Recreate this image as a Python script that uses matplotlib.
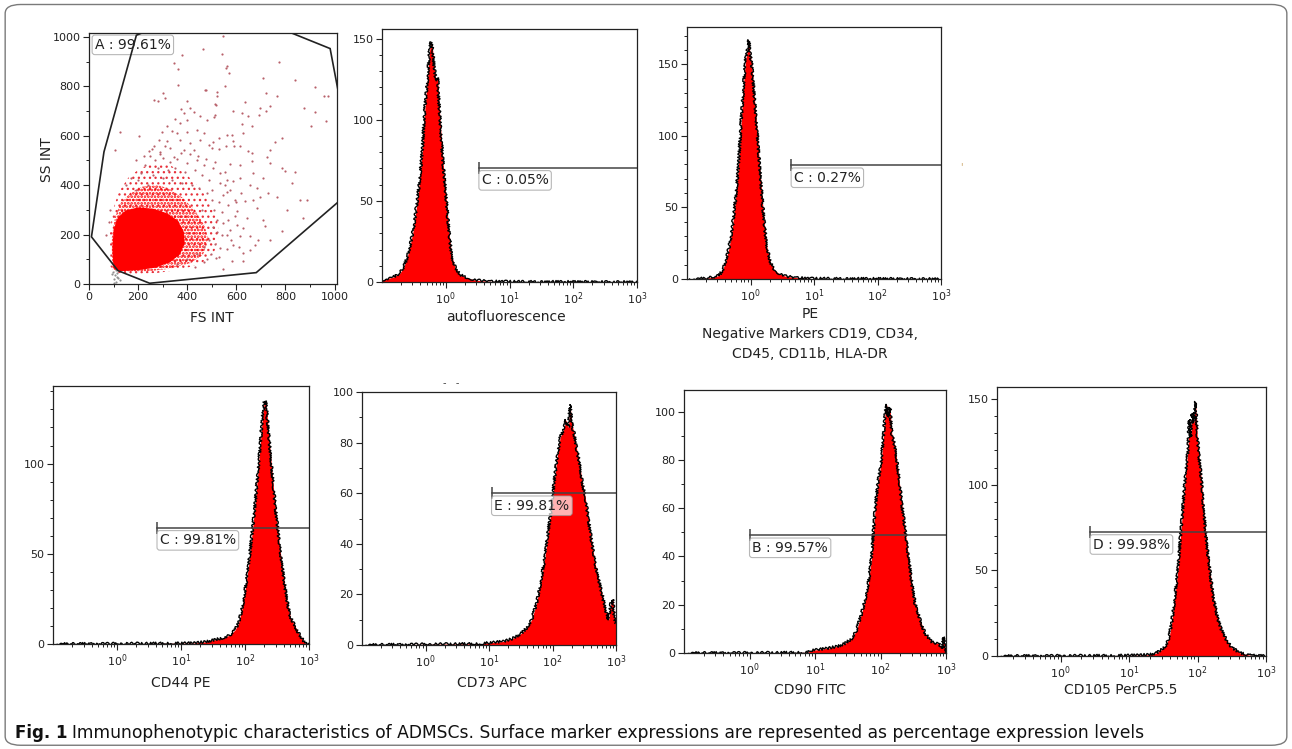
import matplotlib.pyplot as plt
import numpy as np
from matplotlib.patches import FancyBboxPatch, Polygon
from matplotlib.ticker import MultipleLocator, FixedLocator, LogLocator, NullFormatter

plt.rcParams['font.family'] = ['DejaVu Sans']

# ---- scatter (FS INT vs SS INT) ----
gate_fs = [10, 61, 193, 250, 790, 982, 1030, 1030, 681, 247, 118]
gate_ss = [191, 535, 1007, 1030, 1030, 953, 700, 345, 46, 3, 54]

# densest (solid red) part of the cloud
core_fs = [100, 95, 100, 118, 150, 200, 260, 320, 360, 385, 390, 370, 330, 270, 200, 130]
core_ss = [62, 140, 220, 270, 298, 310, 305, 285, 258, 215, 165, 120, 88, 66, 56, 52]

# dense speckled ring around it
inner_fs = [95, 92, 105, 130, 170, 220, 280, 330, 380, 430, 470, 485, 465, 415, 330, 230, 140]
inner_ss = [60, 180, 270, 330, 370, 395, 400, 385, 350, 300, 240, 180, 120, 85, 62, 50, 48]

# thinner speckled ring
outer_fs = [88, 85, 95, 120, 160, 210, 270, 330, 390, 440, 490, 520, 530, 510, 460, 380, 280, 180, 110]
outer_ss = [70, 200, 290, 370, 430, 470, 490, 480, 450, 400, 340, 270, 200, 130, 85, 60, 45, 40, 45]

sparse_fs = [464, 379, 347, 361, 361, 301, 311, 263, 281, 399, 473, 477, 374, 385, 412, 426, 453,
             351, 372, 399, 480, 317, 338, 297, 358, 399, 440, 467, 127, 205, 284, 317, 372, 412,
             453, 487, 263, 331, 385, 426, 243, 107, 290,
             545, 543, 560, 557, 571, 773, 710, 838, 552, 720, 764, 920, 958, 974, 520, 523, 512,
             517, 635, 513, 509, 587, 624, 696, 737, 720, 693, 649, 876, 920, 965, 624, 662, 906,
             560, 584, 628, 784, 757, 531, 506, 587, 590, 556, 614, 737, 649, 662, 531, 499, 724,
             513, 574, 614, 662, 737, 784, 798, 839, 825, 859, 886, 805, 872, 784, 737, 676, 626,
             581, 628, 696, 730, 764, 669, 621, 635, 683, 710, 717, 689, 655, 628, 642, 601, 587,
             614, 655, 683, 669, 710, 553, 533, 560, 594, 567, 594, 614, 587, 560, 546, 533, 519,
             655, 574, 601,
             250, 270, 300, 330, 360, 400, 440, 470, 230, 280, 320, 350, 390, 430, 460, 490, 210,
             260, 300, 340, 380, 420, 450, 480, 500, 510, 520, 505, 490, 470, 440, 400, 360, 200,
             240, 460, 500, 530, 540, 515, 480, 430, 80, 70, 85, 150, 170, 190, 560, 545,
             190, 225, 255, 290, 310, 345, 375, 410, 445, 475, 505, 535, 555, 575, 600, 540, 565,
             520, 495, 470, 530, 560, 580, 610, 545]
sparse_ss = [950, 927, 894, 869, 804, 775, 752, 745, 739, 739, 786, 784, 707, 694, 714, 697, 680,
             669, 653, 662, 664, 641, 621, 617, 611, 617, 624, 611, 617, 600, 584, 577, 584, 571,
             584, 564, 557, 550, 543, 543, 537, 541, 533,
             1005, 931, 883, 876, 856, 900, 833, 824, 802, 775, 759, 797, 759, 763, 779, 762, 729,
             725, 736, 685, 678, 701, 694, 712, 719, 701, 685, 681, 712, 695, 658, 647, 640, 640,
             603, 603, 610, 590, 573, 590, 573, 577, 558, 558, 558, 543, 540, 531, 548, 552, 516,
             493, 485, 482, 496, 489, 469, 458, 455, 408, 341, 341, 301, 267, 216, 180, 157, 126,
             92, 92, 354, 368, 354, 341, 368, 334, 307, 260, 233, 180, 193, 226, 267, 294, 415,
             428, 401, 388, 449, 428, 455, 408, 374, 341, 321, 274, 193, 159, 199, 247, 146, 105,
             139, 220, 240,
             520, 500, 510, 495, 505, 490, 500, 480, 480, 470, 460, 470, 455, 460, 440, 420, 450,
             440, 430, 420, 410, 400, 390, 370, 340, 300, 260, 230, 180, 150, 120, 100, 80, 420,
             400, 300, 380, 330, 200, 160, 100, 70, 250, 200, 300, 400, 430, 380, 420, 360,
             500, 520, 545, 525, 560, 515, 530, 525, 520, 505, 470, 450, 400, 380, 330, 290, 260,
             210, 120, 90, 110, 140, 180, 150, 60]

debris_fs = [100, 105, 110, 115, 98, 120, 108, 125, 102, 112, 118, 95]
debris_ss = [20, 35, 10, 45, 50, 25, 55, 15, 5, 30, 60, 40]

# ---- histograms: log10 intensity and event counts ----
auto_log = [-1.008, -0.929, -0.824, -0.719, -0.667, -0.614, -0.562, -0.509, -0.457, -0.404,
            -0.362, -0.341, -0.310, -0.283, -0.257, -0.231, -0.205, -0.184, -0.152, -0.126,
            -0.115, -0.079, -0.037, 0.016, 0.058, 0.094, 0.147, 0.226, 0.331, 0.488, 0.698,
            1.118, 3.0]
auto_cnt = [1, 2, 3, 5.5, 8.6, 14, 22, 32, 47, 65, 84, 100, 115, 127, 142, 148, 143, 133, 124,
            126, 115, 94, 71, 47, 28, 16, 9, 4.5, 2.5, 1, 0.4, 0.2, 0]

pe_log = [-0.960, -0.701, -0.571, -0.493, -0.441, -0.389, -0.337, -0.285, -0.234, -0.192,
          -0.156, -0.130, -0.104, -0.078, -0.052, -0.026, -0.010, 0.016, 0.036, 0.067, 0.104,
          0.140, 0.182, 0.223, 0.259, 0.311, 0.363, 0.441, 0.545, 0.701, 0.960, 3.0]
pe_cnt = [0, 0.5, 1.4, 2.6, 6, 13, 22, 36, 57, 78, 104, 122, 139, 153, 159, 167, 158, 151, 141,
          123, 104, 81, 57, 36, 22, 12, 7, 4, 2, 1, 0.3, 0]

cd44_log = [-1.004, 0.042, 0.826, 1.192, 1.401, 1.558, 1.662, 1.767, 1.845, 1.898, 1.950,
            2.002, 2.054, 2.107, 2.159, 2.196, 2.227, 2.248, 2.274, 2.300, 2.321, 2.342, 2.368,
            2.405, 2.446, 2.488, 2.541, 2.603, 2.656, 2.708, 2.771, 2.838, 2.906, 2.943, 3.0]
cd44_cnt = [0, 0.2, 0.4, 0.5, 1.3, 2.6, 3.5, 5, 7.8, 11.5, 19, 30, 43, 60, 78, 93, 106, 115,
            126, 134, 135, 128, 117, 102, 86, 71, 54, 37, 24, 15, 10.5, 6, 2.2, 0.4, 0]

cd73_log = [-1.007, 0.063, 0.854, 1.223, 1.355, 1.434, 1.513, 1.592, 1.671, 1.750, 1.829,
            1.882, 1.935, 1.987, 2.024, 2.066, 2.119, 2.172, 2.214, 2.251, 2.277, 2.304, 2.340,
            2.383, 2.425, 2.462, 2.514, 2.567, 2.620, 2.673, 2.725, 2.778, 2.831, 2.884, 2.921,
            2.952, 2.973, 3.0]
cd73_cnt = [0, 0.3, 0.5, 1.4, 2.4, 3.4, 4.7, 6.7, 10, 16.6, 27, 35, 45.5, 54.7, 64, 73, 82, 85,
            89, 86, 95, 87.6, 83.6, 77, 72, 65, 58.6, 49.4, 40, 32, 25.8, 20.5, 14, 10, 16.6,
            18, 11, 8.7]

cd90_log = [-0.998, 0.379, 0.891, 0.942, 1.045, 1.198, 1.352, 1.454, 1.557, 1.633, 1.710,
            1.761, 1.813, 1.864, 1.915, 1.966, 2.007, 2.043, 2.069, 2.094, 2.120, 2.145, 2.171,
            2.222, 2.273, 2.325, 2.376, 2.427, 2.478, 2.529, 2.606, 2.683, 2.785, 2.888, 2.939,
            2.965, 2.990, 3.0]
cd90_cnt = [0, 0.1, 0.3, 1.1, 1.4, 2, 2.8, 3.9, 5.9, 9.4, 16.3, 21.8, 28.7, 39.8, 59, 71.5,
            78.5, 89.5, 99, 103, 97.8, 101.7, 91, 85.4, 74.3, 61.9, 50.8, 39.8, 28.7, 20.4, 13.5,
            8, 4.6, 3.9, 1.8, 6.6, 0.4, 0]

cd105_log = [-0.932, 0.473, 1.059, 1.302, 1.400, 1.473, 1.537, 1.585, 1.620, 1.668, 1.717,
             1.751, 1.790, 1.829, 1.859, 1.878, 1.898, 1.922, 1.946, 1.971, 1.995, 2.024, 2.059,
             2.093, 2.132, 2.180, 2.229, 2.288, 2.351, 2.424, 2.498, 2.620, 2.766, 2.995]
cd105_cnt = [0, 0.2, 0.4, 0.8, 1.8, 3.7, 6.2, 11, 19, 34.5, 52, 70, 89, 108.6, 120, 138, 128,
             141.6, 136, 148.5, 128, 116, 101, 83, 65.7, 50, 34.5, 22.8, 15, 9.2, 4.9, 1.8, 0.4, 0]

# gate markers: start (log10), level, label
gate_start = [0.52, 0.64, 0.625, 1.04, 0.0, 0.43]
gate_level = [70.4, 79.5, 64.4, 60, 48.8, 72.4]
gate_text = ['C : 0.05%', 'C : 0.27%', 'C : 99.81%', 'E : 99.81%', 'B : 99.57%', 'D : 99.98%']

W, H = 1292, 749
fig = plt.figure(figsize=(W / 100, H / 100), dpi=100)


def px_rect(left, top, right, bottom):
    return [left / W, 1 - bottom / H, (right - left) / W, (bottom - top) / H]


def fig_text(x, y, s, **kw):
    return fig.text(x / W, 1 - y / H, s, **kw)


def frame(ax):
    for sp in ax.spines.values():
        sp.set_color('#222222')
        sp.set_linewidth(0.9)
    ax.tick_params(which='major', direction='out', length=4, width=0.8,
                   labelsize=8, colors='#222222', pad=2)
    ax.tick_params(which='minor', direction='out', length=2.5, width=0.7, colors='#222222')


box_style = dict(boxstyle='round,pad=0.2', fc='white', ec='#999999', lw=0.8, alpha=0.7)

# scatter panel
ax = fig.add_axes(px_rect(89, 33, 337, 284))
with plt.rc_context({'hatch.linewidth': 0.9}):
    ax.add_patch(Polygon(np.column_stack([outer_fs, outer_ss]), closed=True, fc='none',
                         ec='#e8303a', lw=0, hatch='...'))
with plt.rc_context({'hatch.linewidth': 1.3}):
    ax.add_patch(Polygon(np.column_stack([inner_fs, inner_ss]), closed=True, fc='none',
                         ec='#ff0000', lw=0, hatch='.....'))
ax.scatter(sparse_fs, sparse_ss, s=2.5, color='#b8606a', lw=0)
ax.scatter(debris_fs, debris_ss, s=2.5, color='#909090', lw=0)
ax.add_patch(Polygon(np.column_stack([core_fs, core_ss]), closed=True, fc='#ff0000', lw=0))
ax.add_patch(Polygon(np.column_stack([gate_fs, gate_ss]), closed=True, fc='none',
                     ec='#222222', lw=1.2, zorder=4))
ax.set_xlim(0, 1010)
ax.set_ylim(0, 1016)
ax.xaxis.set_major_locator(MultipleLocator(200))
ax.xaxis.set_minor_locator(MultipleLocator(100))
ax.yaxis.set_major_locator(MultipleLocator(200))
ax.yaxis.set_minor_locator(MultipleLocator(100))
frame(ax)
ax.text(24, 968, 'A : 99.61%', fontsize=10, va='center', ha='left', color='#222222',
        bbox=box_style, zorder=3)
fig_text(212, 318, 'FS INT', fontsize=10, ha='center', va='center', color='#222222')
fig_text(47, 160, 'SS INT', fontsize=10, ha='center', va='center', rotation=90, color='#222222')


def histogram(rect, logs, counts, ymax, ystep, k, xmin=0.1):
    ax = fig.add_axes(rect)
    x = 10 ** np.array(logs)
    ax.fill_between(x, counts, color='#ff0000', lw=0)
    line, = ax.plot(x, counts, color='black', lw=1.0)
    line.set_sketch_params(scale=1.3, length=2.2, randomness=3)
    ax.set_xscale('log')
    ax.set_xlim(xmin, 1000)
    ax.set_ylim(0, ymax)
    ax.xaxis.set_major_locator(FixedLocator([1, 10, 100, 1000]))
    ax.xaxis.set_minor_locator(LogLocator(base=10, subs=np.arange(2, 10), numticks=20))
    ax.xaxis.set_minor_formatter(NullFormatter())
    ax.yaxis.set_major_locator(MultipleLocator(ystep))
    ax.yaxis.set_minor_locator(MultipleLocator(10))
    frame(ax)
    gx = 10 ** gate_start[k]
    gy = gate_level[k]
    ax.plot([gx, 1000], [gy, gy], color='#444444', lw=1.1, clip_on=False)
    ax.plot([gx], [gy], marker='|', ms=8, mew=1.1, color='#444444')
    ax.annotate(gate_text[k], (gx, gy), xytext=(2, -4), textcoords='offset points',
                ha='left', va='top', fontsize=10, color='#222222', bbox=box_style)
    return ax


histogram(px_rect(382, 29, 637, 282), auto_log, auto_cnt, 156, 50, 0)
histogram(px_rect(687, 27, 941, 279), pe_log, pe_cnt, 176, 50, 1)
histogram(px_rect(53, 386, 309, 644), cd44_log, cd44_cnt, 143, 50, 2)
histogram(px_rect(362, 392, 616, 645), cd73_log, cd73_cnt, 100, 20, 3)
histogram(px_rect(684, 390, 946, 653), cd90_log, cd90_cnt, 109, 20, 4)
histogram(px_rect(997, 387, 1266, 656), cd105_log, cd105_cnt, 157, 50, 5, xmin=10 ** -0.93)

lab = dict(fontsize=10, ha='center', va='center', color='#222222')
fig_text(506, 317, 'autofluorescence', **lab)
fig_text(810, 314, 'PE', **lab)
fig_text(810, 334, 'Negative Markers CD19, CD34,', **lab)
fig_text(810, 354, 'CD45, CD11b, HLA-DR', **lab)
fig_text(181, 683, 'CD44 PE', **lab)
fig_text(492, 683, 'CD73 APC', **lab)
fig_text(810, 690, 'CD90 FITC', **lab)
fig_text(1121, 690, 'CD105 PerCP5.5', **lab)
fig_text(451, 383, '-   -', fontsize=7, ha='center', va='center', color='#444444')
fig_text(961, 167, "'", fontsize=7, ha='center', va='center', color='#c8a060')

# caption
t1 = fig_text(15, 733, 'Fig. 1', fontsize=12, weight='bold', ha='left', va='center',
              color='#111111')
fig.canvas.draw()
bb = t1.get_window_extent()
fig.text((bb.x1 + 5) / W, 1 - 733 / H,
         'Immunophenotypic characteristics of ADMSCs. Surface marker expressions are '
         'represented as percentage expression levels',
         fontsize=12.3, ha='left', va='center', color='#111111')

fig.add_artist(FancyBboxPatch((0.004, 0.005), 0.992, 0.989,
                              boxstyle='round,pad=0,rounding_size=0.012',
                              transform=fig.transFigure, fill=False, ec='#7a7a7a', lw=1.0))

fig.savefig('out.png', dpi=100)
